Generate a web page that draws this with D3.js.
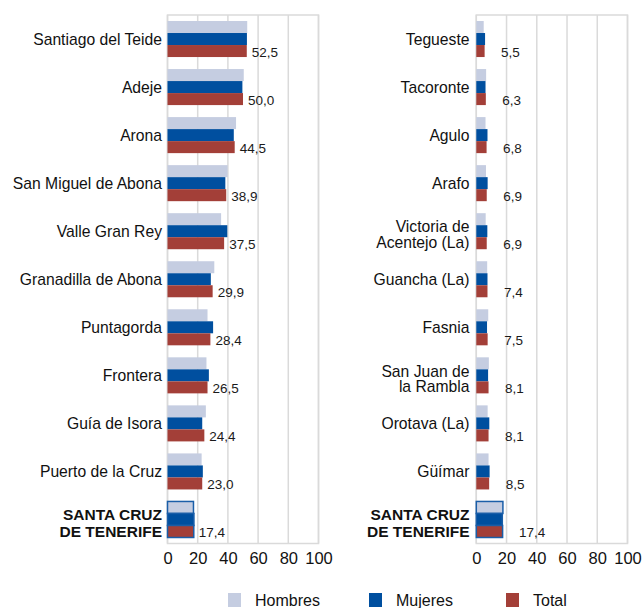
<!DOCTYPE html>
<html>
<head>
<meta charset="utf-8">
<script src="https://cdn.jsdelivr.net/npm/d3@7"></script>
<style>
  html, body { margin: 0; padding: 0; background: #fff; }
  svg { display: block; font-family: "Liberation Sans", Arial, sans-serif; }
</style>
</head>
<body>
<svg id="chart" width="644" height="608"></svg>
<script>
// ---- data ----
const leftCategories = ["Santiago del Teide", "Adeje", "Arona", "San Miguel de Abona", "Valle Gran Rey",
  "Granadilla de Abona", "Puntagorda", "Frontera", "Guía de Isora", "Puerto de la Cruz", "SANTA CRUZ DE TENERIFE"];
const leftHombres = [52.8, 50.5, 45.4, 39.8, 35.5, 31.0, 26.5, 25.8, 25.4, 22.6, 17.2];
const leftMujeres = [52.6, 49.6, 43.9, 38.3, 39.6, 28.7, 30.2, 27.4, 23.0, 23.4, 17.5];
const leftTotal   = [52.5, 50.0, 44.5, 38.9, 37.5, 29.9, 28.4, 26.5, 24.4, 23.0, 17.4];

const rightCategories = ["Tegueste", "Tacoronte", "Agulo", "Arafo", "Victoria de Acentejo (La)",
  "Guancha (La)", "Fasnia", "San Juan de la Rambla", "Orotava (La)", "Güímar", "SANTA CRUZ DE TENERIFE"];
const rightHombres = [4.9, 6.5, 6.1, 6.4, 6.2, 7.2, 7.9, 8.3, 7.5, 8.1, 17.6];
const rightMujeres = [5.8, 6.1, 7.4, 7.5, 7.3, 7.4, 7.1, 7.8, 8.6, 8.8, 17.2];
const rightTotal   = [5.5, 6.3, 6.8, 6.9, 6.9, 7.4, 7.5, 8.1, 8.1, 8.5, 17.4];

const labelLines = {
  "Victoria de Acentejo (La)": ["Victoria de", "Acentejo (La)"],
  "San Juan de la Rambla": ["San Juan de", "la Rambla"],
  "SANTA CRUZ DE TENERIFE": ["SANTA CRUZ", "DE TENERIFE"]
};
const highlight = "SANTA CRUZ DE TENERIFE";

const seriesNames = ["Hombres", "Mujeres", "Total"];
const xTicks = [0, 20, 40, 60, 80, 100];
const fmt = v => d3.format(".1f")(v).replace(".", ",");

// ---- styles ----
const colors = { Hombres: "#c5cde1", Mujeres: "#004f9f", Total: "#a33f38" };
const gridColor = "#dadada";

const svg = d3.select("#chart");

function drawPanel(cfg) {
  const { categories, hombres, mujeres, total, x0, x1, labelRight, valueOffset } = cfg;
  const g = svg.append("g");
  const x = d3.scaleLinear().domain([0, 100]).range([x0, x1]);
  const y = d3.scaleBand().domain(categories).range([15, 543.5]).paddingInner(0).paddingOuter(0);
  const sub = d3.scaleBand().domain(seriesNames).range([0, y.bandwidth()]).paddingInner(0).paddingOuter(0.5);

  g.selectAll("line.grid").data(xTicks).join("line")
    .attr("x1", d => x(d)).attr("x2", d => x(d))
    .attr("y1", y.range()[0]).attr("y2", y.range()[1])
    .attr("stroke", gridColor).attr("stroke-width", 1.5);
  g.append("rect").attr("x", x(0)).attr("y", y.range()[0])
    .attr("width", x(100) - x(0)).attr("height", y.range()[1] - y.range()[0])
    .attr("fill", "none").attr("stroke", gridColor).attr("stroke-width", 1.5);

  const rows = categories.map((c, i) => ({ c, vals: { Hombres: hombres[i], Mujeres: mujeres[i], Total: total[i] } }));

  rows.forEach(r => {
    const isH = r.c === highlight;
    seriesNames.forEach(s => {
      g.append("rect")
        .attr("x", x(0))
        .attr("y", y(r.c) + sub(s))
        .attr("width", x(r.vals[s]) - x(0))
        .attr("height", sub.bandwidth())
        .attr("fill", colors[s])
        .attr("stroke", isH ? "#1a5ea8" : "none")
        .attr("stroke-width", isH ? 1.5 : 0);
    });
    g.append("text")
      .attr("x", x(r.vals.Total) + valueOffset)
      .attr("y", y(r.c) + sub("Total") + sub.bandwidth() / 2 + 1)
      .attr("dy", "0.35em")
      .attr("font-size", 13.5).attr("fill", "#1a1a1a")
      .text(fmt(r.vals.Total));
    const lines = labelLines[r.c] || [r.c];
    const cy = y(r.c) + y.bandwidth() / 2;
    const t = g.append("text")
      .attr("text-anchor", "end")
      .attr("font-size", isH ? 15.5 : 15.7)
      .attr("font-weight", isH ? "bold" : "normal")
      .attr("fill", "#111");
    const lh = isH ? 17.5 : 15.5;
    const startY = lines.length === 1 ? cy : cy + 3.5 - lh / 2;
    lines.forEach((ln, k) => {
      t.append("tspan").attr("x", labelRight).attr("y", startY + k * lh).attr("dy", "0.35em").text(ln);
    });
  });

  const ax = g.append("g").attr("transform", `translate(0,${y.range()[1]})`)
    .call(d3.axisBottom(x).tickValues(xTicks).tickSize(0).tickPadding(9));
  ax.select(".domain").remove();
  ax.selectAll("text").attr("font-size", 16.5).attr("fill", "#111")
    .attr("font-family", "'Liberation Sans', Arial, sans-serif");
}

drawPanel({ categories: leftCategories, hombres: leftHombres, mujeres: leftMujeres, total: leftTotal,
  x0: 167.5, x1: 318.5, labelRight: 162, valueOffset: 5 });
drawPanel({ categories: rightCategories, hombres: rightHombres, mujeres: rightMujeres, total: rightTotal,
  x0: 476.3, x1: 627.5, labelRight: 469.5, valueOffset: 16.5 });

const legendX = { Hombres: 228, Mujeres: 369, Total: 506 };
const leg = svg.append("g");
seriesNames.forEach(s => {
  leg.append("rect").attr("x", legendX[s]).attr("y", 593).attr("width", 13).attr("height", 14)
    .attr("fill", colors[s]);
  leg.append("text").attr("x", legendX[s] + 27).attr("y", 600).attr("dy", "0.35em")
    .attr("font-size", 16).attr("fill", "#111").text(s);
});
</script>
</body>
</html>
